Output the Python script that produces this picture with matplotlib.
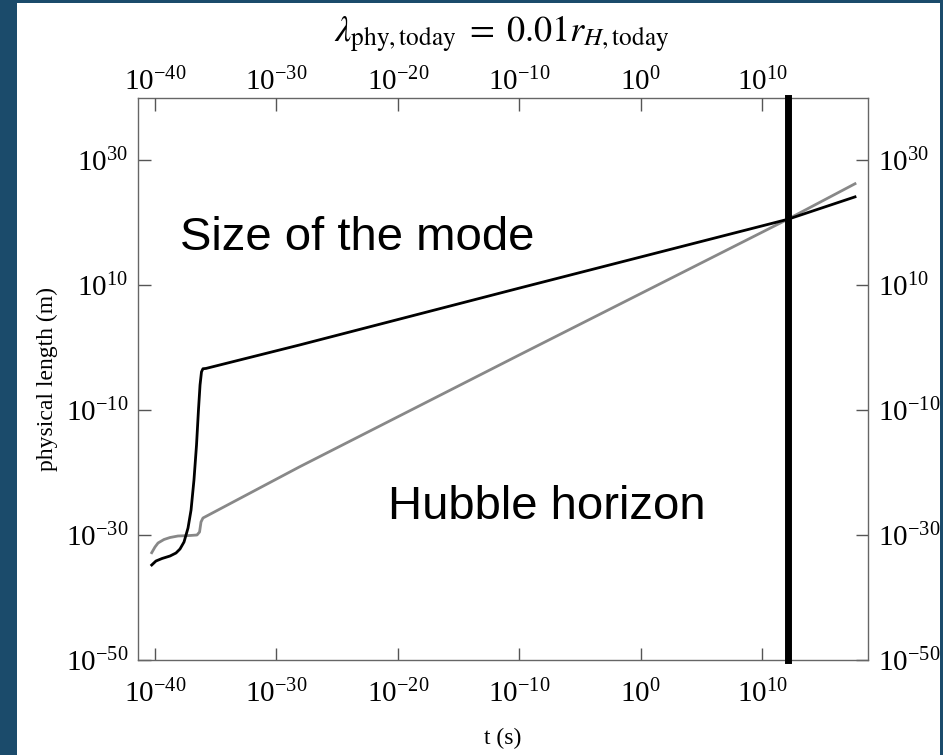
import numpy as np
import matplotlib
matplotlib.use("Agg")
import matplotlib.pyplot as plt
from matplotlib.patches import Rectangle

# log10 t (s) と log10 長さ (m)
mode_logt = [-40.27, -39.92, -39.42, -38.76, -38.27, -37.94, -37.61, -37.28, -37.03, -36.79,
             -36.58, -36.42, -36.29, -36.17, -36.05, -35.8, -28.1, -10.0, 12.1, 17.66]
mode_logl = [-34.8, -34.16, -33.76, -33.36, -32.88, -32.24, -31.12, -28.88, -26.0, -21.2,
             -15.6, -10.0, -6.0, -3.9, -3.4, -3.35, 0.4, 9.5, 20.5, 24.1]

hubble_logt = [-40.27, -40.0, -39.75, -39.26, -38.76, -38.11, -37.12, -36.54, -36.33, -36.21,
               -36.05, -28.1, -10.0, 12.1, 17.66]
hubble_logl = [-32.83, -31.92, -31.28, -30.72, -30.4, -30.16, -30.08, -30.0, -29.52, -27.92,
               -27.28, -19.1, -1.2, 20.5, 26.2]

t_cross = 12.1

xtick_exp = [-40, -30, -20, -10, 0, 10]
ytick_exp = [-50, -30, -10, 10, 30]

plt.rcParams["font.family"] = "serif"
plt.rcParams["font.serif"] = ["Liberation Serif"]
plt.rcParams["mathtext.fontset"] = "stix"

fig = plt.figure(figsize=(9.43, 7.55), dpi=100)
fig.patch.set_facecolor("#1b4b6b")
# 白いパネル
fig.patches.append(Rectangle((17 / 943, 0), (940 - 17) / 943, 1 - 3 / 755,
                             transform=fig.transFigure, facecolor="white",
                             edgecolor="none", zorder=-1))

ax = fig.add_axes([138 / 943, 1 - 660 / 755, (868 - 138) / 943, (660 - 97.5) / 755])
ax.set_facecolor("white")
ax.set_xscale("log")
ax.set_yscale("log")

ax.plot(10.0 ** np.array(hubble_logt), 10.0 ** np.array(hubble_logl), color="#888888", lw=2.0)
ax.plot(10.0 ** np.array(mode_logt), 10.0 ** np.array(mode_logl), color="black", lw=2.0)
ax.axvline(10.0 ** t_cross, color="black", lw=5, clip_on=False, solid_capstyle="projecting",
           zorder=5)

xlim = (10.0 ** -41.4, 10.0 ** 18.73)
xticks = [10.0 ** e for e in xtick_exp]
ax.set_xlim(*xlim)
ax.set_ylim(1e-50, 1e40)
ax.set_xticks(xticks)
ax.set_yticks([10.0 ** e for e in ytick_exp])
ax.minorticks_off()
ax.tick_params(which="major", direction="in", length=9, width=1, color="#555555",
               top=False, right=True, labelright=True, labelsize=21)
ax.tick_params(axis="x", pad=14)
ax.tick_params(axis="y", pad=7)
for s in ax.spines.values():
    s.set_color("#666666")
    s.set_linewidth(1)

# 上側の目盛り（ラベルは軸に近い）
ax_top = ax.twiny()
ax_top.set_xscale("log")
ax_top.set_xlim(*xlim)
ax_top.set_xticks(xticks)
ax_top.minorticks_off()
ax_top.tick_params(which="major", direction="in", length=9, width=1, color="#555555",
                   labelsize=21, pad=1)
for s in ax_top.spines.values():
    s.set_visible(False)

ax.set_xlabel("t (s)", fontsize=17, labelpad=14)
ax.set_ylabel("physical length (m)", fontsize=17, labelpad=6)
fig.text(0.532, 1 - 34 / 755, r"$\lambda_{\rm phy,today}\;=\;0.01r_{H,{\rm today}}$",
         fontsize=26, ha="center", va="center")

ax.text(180 / 943, 1 - 250 / 755, "Size of the mode", transform=fig.transFigure,
        family="Liberation Sans", fontsize=34, ha="left", va="baseline")
ax.text(388 / 943, 1 - 519 / 755, "Hubble horizon", transform=fig.transFigure,
        family="Liberation Sans", fontsize=34, ha="left", va="baseline")

fig.savefig("out.png", dpi=100, facecolor=fig.get_facecolor())
